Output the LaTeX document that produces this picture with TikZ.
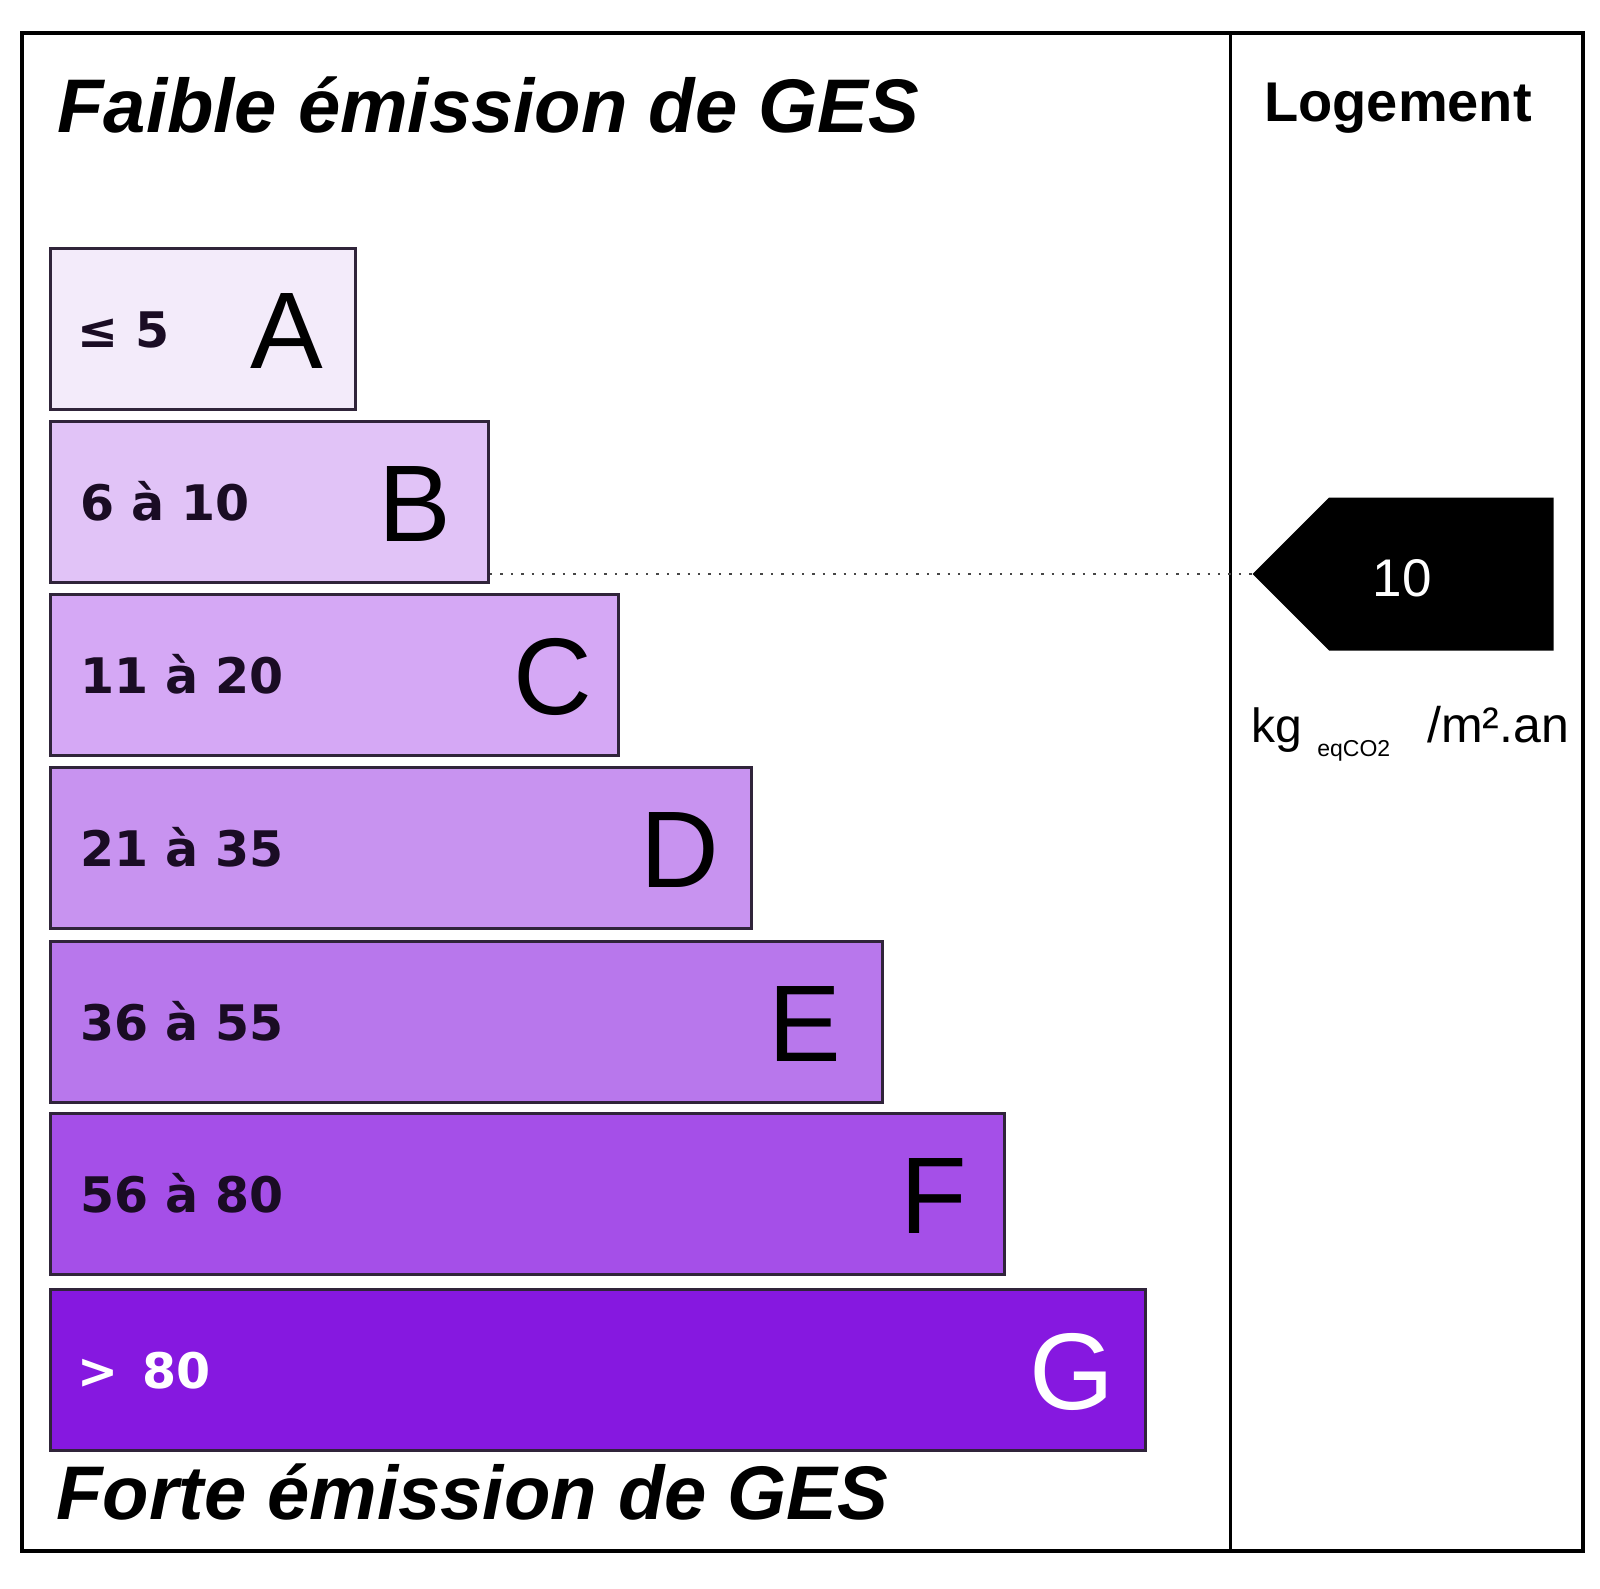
\documentclass[tikz,border=0pt]{standalone}
\usepackage{fontspec}
\setmainfont{Liberation Sans}
\newfontfamily\rangefont{DejaVu Sans}
\usetikzlibrary{shapes.symbols}

\definecolor{gesA}{RGB}{243,235,250}
\definecolor{gesB}{RGB}{225,195,247}
\definecolor{gesC}{RGB}{213,168,245}
\definecolor{gesD}{RGB}{200,147,240}
\definecolor{gesE}{RGB}{184,119,236}
\definecolor{gesF}{RGB}{165,79,232}
\definecolor{gesG}{RGB}{134,24,224}
\definecolor{barline}{RGB}{48,36,58}
\definecolor{rangeink}{RGB}{26,12,36}
\definecolor{dotgray}{RGB}{70,70,70}

\begin{document}
\begin{tikzpicture}[x=0.5pt, y=-0.5pt,
    gesbar/.style={rectangle, draw=barline, line width=1.5pt, minimum height=80.5pt, inner sep=0pt, anchor=north west},
    gesrange/.style={anchor=base west, inner sep=0pt, text=rangeink, font=\rangefont\bfseries\fontsize{24.5}{28}\selectfont},
    gesletter/.style={anchor=base east, inner sep=0pt, font=\fontsize{54.5}{60}\selectfont},
    gestitle/.style={anchor=base west, inner sep=0pt, font=\bfseries\itshape\fontsize{38}{44}\selectfont},
    gesunit/.style={anchor=base west, inner sep=0pt, font=\fontsize{24}{28}\selectfont},
    dotline/.style={draw=dotgray, line width=1pt, dash pattern=on 1.2pt off 4pt}]

    \useasboundingbox (0,0) rectangle (1600,1589);

    \draw[line width=2pt] (22,33) rectangle (1583,1551);
    \draw[line width=1.5pt] (1230,33) -- (1230,1551);

    \node[gestitle] (faible) at (57,133) {Faible émission de GES};
    \node[gestitle] (forte) at (56,1519) {Forte émission de GES};
    \node[anchor=base, inner sep=0pt, font=\bfseries\fontsize{28}{32}\selectfont] (logement) at (1398,122) {Logement};

    \node[gesbar, fill=gesA, minimum width=152.5pt] (barA) at (49,247) {};
    \node[gesbar, fill=gesB, minimum width=219pt] (barB) at (49,420) {};
    \node[gesbar, fill=gesC, minimum width=284pt] (barC) at (49,593) {};
    \node[gesbar, fill=gesD, minimum width=350.5pt] (barD) at (49,766) {};
    \node[gesbar, fill=gesE, minimum width=416pt] (barE) at (49,940) {};
    \node[gesbar, fill=gesF, minimum width=477pt] (barF) at (49,1112) {};
    \node[gesbar, fill=gesG, minimum width=547.5pt] (barG) at (49,1288) {};

    \node[gesrange] (rangeA) at ([xshift=14pt, yshift=-9pt]barA.west) {≤ 5};
    \node[gesrange] (rangeB) at ([xshift=15.5pt, yshift=-9pt]barB.west) {6 à 10};
    \node[gesrange] (rangeC) at ([xshift=15.5pt, yshift=-9pt]barC.west) {11 à 20};
    \node[gesrange] (rangeD) at ([xshift=15.5pt, yshift=-9pt]barD.west) {21 à 35};
    \node[gesrange] (rangeE) at ([xshift=15.5pt, yshift=-9pt]barE.west) {36 à 55};
    \node[gesrange] (rangeF) at ([xshift=15.5pt, yshift=-9pt]barF.west) {56 à 80};
    \node[gesrange, text=white] (rangeG) at ([xshift=14pt, yshift=-9pt]barG.west) {>\hspace{12pt}80};

    \node[gesletter] (letterA) at ([xshift=-16.5pt, yshift=-19.5pt]barA.east) {A};
    \node[gesletter] (letterB) at ([xshift=-19pt, yshift=-19.5pt]barB.east) {B};
    \node[gesletter] (letterC) at ([xshift=-13.5pt, yshift=-19.5pt]barC.east) {C};
    \node[gesletter] (letterD) at ([xshift=-16.5pt, yshift=-19.5pt]barD.east) {D};
    \node[gesletter] (letterE) at ([xshift=-21pt, yshift=-19.5pt]barE.east) {E};
    \node[gesletter] (letterF) at ([xshift=-19.5pt, yshift=-19.5pt]barF.east) {F};
    \node[gesletter, text=white] (letterG) at ([xshift=-16pt, yshift=-19.5pt]barG.east) {G};

    \node[signal, signal to=west, signal pointer angle=90, fill=black, minimum width=150.5pt, minimum height=76.5pt, inner sep=0pt, anchor=west] (note) at (1252,574) {};
    \node[text=white, inner sep=0pt, font=\fontsize{26.5}{30}\selectfont] (value) at (1402,578) {10};

    \draw[dotline] (barB.east |- note.west) -- (note.west);

    \node[gesunit] (unitkg) at (1251,742) {kg};
    \node[gesunit, font=\fontsize{11.5}{14}\selectfont] (uniteq) at (1317,756) {eqCO2};
    \node[gesunit, font=\fontsize{25}{28}\selectfont] (unitm) at (1427,742) {/m².an};
\end{tikzpicture}
\end{document}
